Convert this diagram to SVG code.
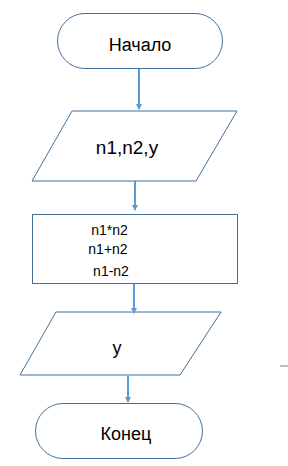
<svg xmlns="http://www.w3.org/2000/svg" width="288" height="466" viewBox="0 0 288 466">
<defs>
<style>
.s{fill:#fff;stroke:#41719C;stroke-width:1}
.c{stroke:#5B9BD5;stroke-width:2;fill:none}
.t{font-family:"Liberation Sans","DejaVu Sans",sans-serif;fill:#000;text-anchor:middle}
</style>
<marker id="a" markerWidth="6" markerHeight="6" refX="5" refY="3" orient="auto" markerUnits="userSpaceOnUse">
<path d="M0,0 L6,3 L0,6 z" fill="#5B9BD5"/>
</marker>
</defs>
<rect width="288" height="466" fill="#fff"/>
<g id="start">
<rect class="s" x="57.5" y="13.5" width="165" height="55" rx="27.5"/>
<text class="t" x="140" y="51" font-size="18">Начало</text>
</g>
<g id="input">
<polygon class="s" points="72,111 237,111 196,181 32,181"/>
<text class="t" x="127" y="154" font-size="19">n1,n2,y</text>
</g>
<g id="process">
<rect class="s" x="32.5" y="214.5" width="205" height="69"/>
<text class="t" font-size="14"><tspan x="109.5" y="235">n1*n2</tspan><tspan x="108" y="254">n1+n2</tspan><tspan x="111" y="276">n1-n2</tspan></text>
</g>
<g id="output">
<polygon class="s" points="56,312 221,312 180,375 20,375"/>
<text class="t" x="117" y="354" font-size="18">y</text>
</g>
<g id="end">
<rect class="s" x="35.5" y="403.5" width="167" height="55" rx="27.5"/>
<text class="t" x="126" y="440" font-size="18">Конец</text>
</g>
<g id="connectors">
<line class="c" x1="139" y1="69" x2="139" y2="109" marker-end="url(#a)"/>
<line class="c" x1="135" y1="181" x2="135" y2="210" marker-end="url(#a)"/>
<line class="c" x1="134" y1="284" x2="134" y2="313" marker-end="url(#a)"/>
<line class="c" x1="128" y1="376" x2="128" y2="402" marker-end="url(#a)"/>
</g>
<line x1="280" y1="366" x2="288" y2="366" stroke="#808080" stroke-width="1"/>
</svg>
